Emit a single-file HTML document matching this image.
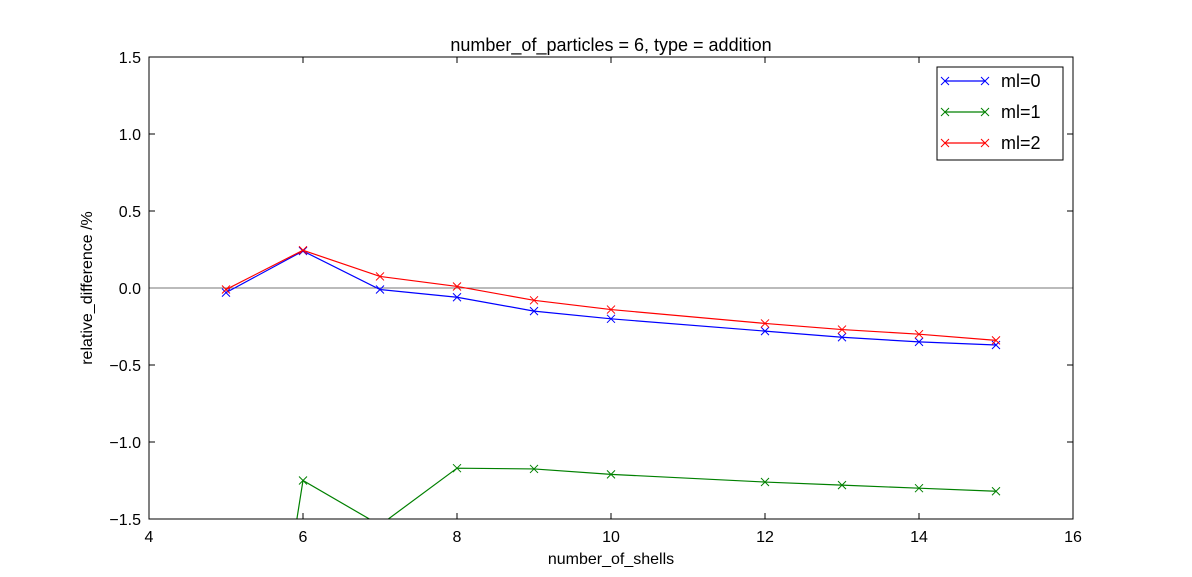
<!DOCTYPE html>
<html><head><meta charset="utf-8"><style>
html,body{margin:0;padding:0;background:#fff;width:1192px;height:577px;overflow:hidden}
svg{display:block;font-family:"Liberation Sans","DejaVu Sans",sans-serif}
</style></head><body>
<svg id="chart" width="1192" height="577">
<defs><clipPath id="clip"><rect x="149" y="57" width="924" height="462"/></clipPath></defs>
<rect width="1192" height="577" fill="#fff"/>
<text x="611" y="51" text-anchor="middle" font-size="18">number_of_particles = 6, type = addition</text>
<g id="axes"></g>
<g id="series" clip-path="url(#clip)"></g>
<rect x="149" y="57" width="924" height="462" fill="none" stroke="#000" stroke-width="1"/>
<text x="611" y="564" text-anchor="middle" font-size="16">number_of_shells</text>
<text transform="translate(92,288) rotate(-90)" text-anchor="middle" font-size="16">relative_difference /%</text>
<g id="legend">
<rect x="937" y="67" width="126" height="93" fill="#fff" stroke="#000"/>
</g>
</svg>
<script>
const xs = [5,6,7,8,9,10,12,13,14,15];
const seriesNames = ["ml=0","ml=1","ml=2"];
const seriesColors = ["#0000ff","#008000","#ff0000"];
const ml0 = [-0.03,0.24,-0.01,-0.06,-0.15,-0.20,-0.28,-0.32,-0.35,-0.37];
const ml1 = [-4.4,-1.25,-1.54,-1.17,-1.175,-1.21,-1.26,-1.28,-1.30,-1.32];
const ml2 = [-0.01,0.245,0.075,0.01,-0.08,-0.14,-0.23,-0.27,-0.30,-0.34];
const xTicks = [4,6,8,10,12,14,16];
const yTicks = [-1.5,-1.0,-0.5,0.0,0.5,1.0,1.5];
const yTickLabels = ["\u22121.5","\u22121.0","\u22120.5","0.0","0.5","1.0","1.5"];
const X0=149,X1=1073,Y0=519,Y1=57;
const sx=v=>X0+(v-4)/(16-4)*(X1-X0);
const sy=v=>Y0-(v+1.5)/3*(Y0-Y1);
const NS="http://www.w3.org/2000/svg";
function mk(t,a,p){const e=document.createElementNS(NS,t);for(const k in a)e.setAttribute(k,a[k]);p.appendChild(e);return e;}
const axes=document.getElementById('axes');
xTicks.forEach(t=>{const x=sx(t);
 mk('line',{x1:x,x2:x,y1:Y0,y2:Y0-6,stroke:'#000'},axes);
 mk('line',{x1:x,x2:x,y1:Y1,y2:Y1+6,stroke:'#000'},axes);
 const l=mk('text',{x:x,y:Y0+23,'text-anchor':'middle','font-size':16},axes);l.textContent=t;
 
 
});
yTicks.forEach((t,i)=>{const y=sy(t);
 mk('line',{x1:X0,x2:X0+6,y1:y,y2:y,stroke:'#000'},axes);
 mk('line',{x1:X1,x2:X1-6,y1:y,y2:y,stroke:'#000'},axes);
 const l=mk('text',{x:X0-8,y:y+6,'text-anchor':'end','font-size':16},axes);l.textContent=yTickLabels[i];
 
 
});
const zl=mk('line',{x1:X0,x2:X1,y1:sy(0),y2:sy(0),stroke:'#777'},axes);


const ser=document.getElementById('series');
function marker(g,x,y,c){mk('path',{d:`M${x-4},${y-4}L${x+4},${y+4}M${x-4},${y+4}L${x+4},${y-4}`,stroke:c,'stroke-width':1,fill:'none'},g);}
[ml0,ml1,ml2].forEach((vals,i)=>{
 const g=mk('g',{},ser);
 
 
 mk('polyline',{points:vals.map((v,j)=>sx(xs[j])+','+sy(v)).join(' '),fill:'none',stroke:seriesColors[i],'stroke-width':1.2},g);
 vals.forEach((v,j)=>marker(g,sx(xs[j]),sy(v),seriesColors[i]));
});
const lg=document.getElementById('legend');
seriesNames.forEach((n,i)=>{const y=81+i*31;
 const g=mk('g',{},lg);
 
 
 mk('line',{x1:945,x2:985,y1:y,y2:y,stroke:seriesColors[i],'stroke-width':1.2},g);
 marker(g,945,y,seriesColors[i]);marker(g,985,y,seriesColors[i]);
 const t=mk('text',{x:1001,y:y+6,'font-size':18},g);t.textContent=n;
});
</script>
</body></html>
